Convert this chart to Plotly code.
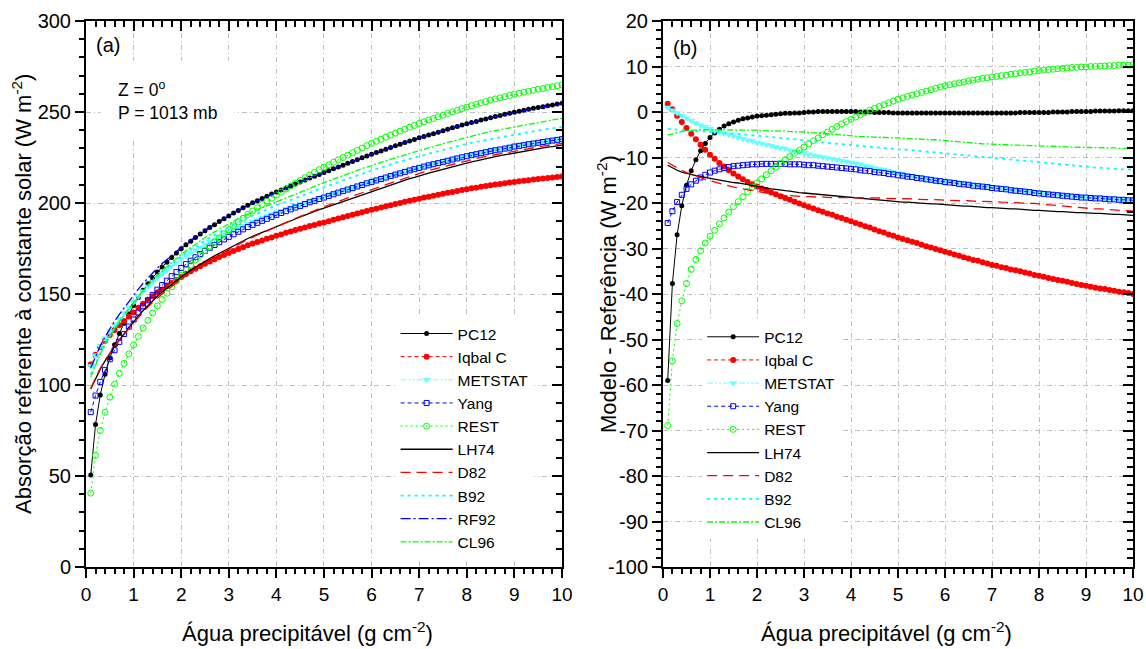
import plotly.graph_objects as go

# ---------------- DATA ----------------
# precipitable water grid (g cm-2)
water = [round(0.1 * i, 1) for i in range(1, 101)]

# RF92 (reference model) absorption, W m-2  -- panel (a)
rf92_abs = [109.5, 116.0, 121.5, 126.5, 131.0, 135.0, 138.8, 142.4, 145.9, 149.3,
            152.7, 155.9, 158.8, 161.6, 164.3, 166.7, 169.0, 171.4, 173.6, 175.8,
            177.8, 179.7, 181.6, 183.4, 185.1, 186.8, 188.4, 190.0, 191.5, 193.0,
            194.5, 195.9, 197.3, 198.7, 200.0, 201.2, 202.4, 203.6, 204.8, 206.0,
            207.1, 208.3, 209.4, 210.5, 211.6, 212.7, 213.8, 214.8, 215.9, 216.9,
            217.9, 219.0, 220.0, 221.0, 222.0, 223.0, 224.0, 225.0, 226.0, 227.0,
            227.9, 228.8, 229.8, 230.7, 231.6, 232.5, 233.4, 234.3, 235.1, 236.0,
            236.8, 237.6, 238.3, 239.1, 239.9, 240.6, 241.4, 242.1, 242.9, 243.6,
            244.3, 244.9, 245.6, 246.2, 246.9, 247.5, 248.0, 248.6, 249.2, 249.8,
            250.3, 250.8, 251.3, 251.8, 252.3, 252.7, 253.2, 253.6, 254.1, 254.5]

# Model - Reference differences, W m-2 -- panel (b)
pc12_diff = [-59.0, -37.7, -27.0, -20.6, -16.1, -12.9, -10.5, -8.5, -6.9, -5.6,
             -4.6, -3.8, -3.1, -2.6, -2.2, -1.8, -1.5, -1.3, -1.1, -0.9,
             -0.8, -0.7, -0.6, -0.5, -0.4, -0.3, -0.3, -0.2, -0.2, -0.1,
             0.0, 0.0, 0.1, 0.1, 0.1, 0.1, 0.1, 0.1, 0.1, 0.1,
             0.1, 0.0, 0.0, 0.0, -0.1, -0.1, -0.1, -0.1, -0.2, -0.2,
             -0.2, -0.2, -0.2, -0.2, -0.2, -0.2, -0.2, -0.2, -0.2, -0.2,
             -0.2, -0.2, -0.2, -0.2, -0.2, -0.2, -0.2, -0.2, -0.2, -0.2,
             -0.2, -0.2, -0.2, -0.2, -0.2, -0.1, -0.1, -0.1, -0.1, -0.1,
             -0.1, -0.1, 0.0, 0.0, 0.0, 0.0, 0.1, 0.1, 0.1, 0.1,
             0.1, 0.2, 0.2, 0.2, 0.2, 0.2, 0.3, 0.3, 0.3, 0.3]

iqbal_diff = [1.8, 0.6, -0.8, -2.2, -3.5, -4.8, -6.0, -7.2, -8.3, -9.4,
              -10.3, -11.2, -12.0, -12.8, -13.5, -14.2, -14.8, -15.4, -15.9, -16.4,
              -16.8, -17.2, -17.7, -18.1, -18.5, -18.9, -19.3, -19.7, -20.1, -20.5,
              -20.9, -21.2, -21.6, -21.9, -22.3, -22.6, -23.0, -23.3, -23.7, -24.0,
              -24.4, -24.7, -25.1, -25.4, -25.8, -26.2, -26.5, -26.9, -27.2, -27.6,
              -27.9, -28.2, -28.5, -28.8, -29.2, -29.5, -29.8, -30.1, -30.4, -30.7,
              -31.0, -31.3, -31.6, -31.9, -32.2, -32.5, -32.7, -33.0, -33.3, -33.6,
              -33.8, -34.1, -34.3, -34.6, -34.8, -35.0, -35.3, -35.5, -35.8, -36.0,
              -36.2, -36.5, -36.7, -36.9, -37.1, -37.3, -37.6, -37.8, -38.0, -38.2,
              -38.4, -38.6, -38.8, -38.9, -39.1, -39.3, -39.5, -39.6, -39.8, -40.0]

metstat_diff = [1.0, 0.4, -0.2, -0.8, -1.4, -1.9, -2.4, -2.9, -3.3, -3.7,
                -4.1, -4.4, -4.7, -5.0, -5.3, -5.6, -5.9, -6.2, -6.4, -6.7,
                -6.9, -7.2, -7.4, -7.7, -7.9, -8.1, -8.4, -8.6, -8.8, -9.0,
                -9.3, -9.5, -9.7, -9.9, -10.1, -10.3, -10.5, -10.7, -10.9, -11.1,
                -11.3, -11.5, -11.8, -12.0, -12.3, -12.5, -12.7, -12.9, -13.2, -13.4,
                -13.6, -13.8, -14.0, -14.2, -14.4, -14.6, -14.8, -15.0, -15.1, -15.2,
                -15.3, -15.4, -15.6, -15.7, -15.8, -16.0, -16.1, -16.2, -16.3, -16.5,
                -16.6, -16.7, -16.8, -17.0, -17.1, -17.2, -17.3, -17.4, -17.6, -17.7,
                -17.8, -17.9, -18.0, -18.1, -18.2, -18.3, -18.4, -18.5, -18.6, -18.6,
                -18.7, -18.8, -18.8, -18.9, -19.0, -19.0, -19.1, -19.1, -19.2, -19.2]

yang_diff = [-24.4, -21.8, -19.8, -18.2, -16.9, -15.9, -15.1, -14.4, -13.8, -13.3,
             -12.9, -12.6, -12.3, -12.1, -11.9, -11.8, -11.7, -11.6, -11.5, -11.5,
             -11.4, -11.4, -11.4, -11.4, -11.4, -11.4, -11.5, -11.5, -11.5, -11.6,
             -11.7, -11.7, -11.8, -11.9, -12.0, -12.1, -12.2, -12.3, -12.4, -12.5,
             -12.6, -12.8, -12.9, -13.0, -13.2, -13.3, -13.4, -13.6, -13.7, -13.9,
             -14.0, -14.2, -14.3, -14.5, -14.6, -14.8, -14.9, -15.1, -15.2, -15.4,
             -15.5, -15.6, -15.8, -15.9, -16.0, -16.2, -16.3, -16.4, -16.5, -16.7,
             -16.8, -16.9, -17.0, -17.2, -17.3, -17.4, -17.5, -17.6, -17.8, -17.9,
             -18.0, -18.1, -18.2, -18.3, -18.4, -18.5, -18.6, -18.7, -18.8, -18.8,
             -18.9, -19.0, -19.0, -19.1, -19.2, -19.2, -19.3, -19.3, -19.4, -19.4]

rest_diff = [-68.9, -54.7, -46.5, -41.5, -37.7, -34.6, -32.4, -30.5, -28.8, -27.3,
             -26.0, -24.6, -23.3, -22.0, -20.8, -19.7, -18.6, -17.5, -16.5, -15.6,
             -14.7, -13.8, -12.9, -12.1, -11.3, -10.5, -9.8, -9.1, -8.4, -7.7,
             -7.0, -6.3, -5.7, -5.0, -4.4, -3.8, -3.2, -2.6, -2.1, -1.6,
             -1.1, -0.6, -0.1, 0.4, 0.8, 1.2, 1.6, 2.0, 2.4, 2.8,
             3.1, 3.4, 3.7, 4.0, 4.3, 4.6, 4.9, 5.2, 5.5, 5.8,
             6.0, 6.2, 6.4, 6.6, 6.8, 7.0, 7.2, 7.4, 7.5, 7.7,
             7.8, 8.0, 8.1, 8.3, 8.4, 8.6, 8.7, 8.8, 9.0, 9.1,
             9.2, 9.3, 9.4, 9.5, 9.6, 9.7, 9.8, 9.8, 9.9, 9.9,
             10.0, 10.0, 10.1, 10.1, 10.2, 10.2, 10.3, 10.3, 10.3, 10.4]

lh74_diff = [-11.7, -12.3, -12.8, -13.2, -13.5, -13.8, -14.0, -14.2, -14.4, -14.6,
             -14.8, -15.0, -15.1, -15.3, -15.5, -15.6, -15.8, -15.9, -16.1, -16.3,
             -16.5, -16.7, -16.9, -17.0, -17.2, -17.3, -17.4, -17.6, -17.7, -17.8,
             -17.9, -18.0, -18.1, -18.2, -18.3, -18.4, -18.5, -18.6, -18.7, -18.8,
             -18.9, -19.0, -19.1, -19.2, -19.3, -19.4, -19.4, -19.5, -19.6, -19.7,
             -19.8, -19.8, -19.9, -20.0, -20.0, -20.1, -20.2, -20.2, -20.3, -20.4,
             -20.5, -20.5, -20.6, -20.7, -20.7, -20.8, -20.9, -20.9, -21.0, -21.0,
             -21.1, -21.2, -21.2, -21.3, -21.3, -21.4, -21.5, -21.5, -21.6, -21.6,
             -21.7, -21.8, -21.8, -21.9, -21.9, -22.0, -22.0, -22.1, -22.1, -22.2,
             -22.3, -22.3, -22.3, -22.4, -22.4, -22.5, -22.5, -22.6, -22.6, -22.7]

d82_diff = [-11.1, -11.7, -12.3, -12.8, -13.3, -13.7, -14.1, -14.5, -14.8, -15.1,
            -15.4, -15.7, -16.0, -16.2, -16.5, -16.7, -16.9, -17.1, -17.3, -17.5,
            -17.7, -17.8, -18.0, -18.1, -18.2, -18.3, -18.4, -18.5, -18.5, -18.6,
            -18.6, -18.7, -18.7, -18.7, -18.8, -18.8, -18.8, -18.8, -18.8, -18.8,
            -18.8, -18.8, -18.9, -18.9, -18.9, -18.9, -19.0, -19.0, -19.0, -19.0,
            -19.1, -19.1, -19.1, -19.2, -19.2, -19.2, -19.3, -19.3, -19.3, -19.4,
            -19.4, -19.4, -19.5, -19.5, -19.5, -19.6, -19.6, -19.6, -19.7, -19.7,
            -19.7, -19.8, -19.8, -19.9, -19.9, -20.0, -20.0, -20.1, -20.1, -20.2,
            -20.3, -20.4, -20.5, -20.6, -20.7, -20.8, -20.9, -21.0, -21.0, -21.1,
            -21.2, -21.3, -21.3, -21.4, -21.5, -21.5, -21.6, -21.7, -21.7, -21.8]

b92_diff = [-3.7, -3.8, -3.9, -3.9, -4.0, -4.1, -4.2, -4.2, -4.3, -4.4,
            -4.5, -4.5, -4.6, -4.7, -4.7, -4.8, -4.9, -5.0, -5.0, -5.1,
            -5.2, -5.3, -5.4, -5.5, -5.7, -5.8, -5.9, -6.0, -6.1, -6.2,
            -6.3, -6.4, -6.6, -6.7, -6.8, -6.9, -7.0, -7.1, -7.2, -7.3,
            -7.4, -7.5, -7.6, -7.7, -7.8, -7.8, -7.9, -8.0, -8.1, -8.2,
            -8.3, -8.3, -8.4, -8.5, -8.6, -8.7, -8.8, -8.9, -9.0, -9.0,
            -9.1, -9.2, -9.3, -9.4, -9.5, -9.6, -9.8, -9.9, -10.0, -10.1,
            -10.2, -10.3, -10.4, -10.5, -10.6, -10.7, -10.8, -10.9, -11.0, -11.1,
            -11.2, -11.3, -11.4, -11.5, -11.6, -11.7, -11.8, -11.9, -12.0, -12.1,
            -12.1, -12.2, -12.3, -12.3, -12.4, -12.5, -12.5, -12.6, -12.6, -12.7]

cl96_diff = [-5.1, -4.8, -4.5, -4.3, -4.1, -4.0, -3.9, -3.9, -3.9, -3.9,
             -3.9, -3.9, -3.9, -3.9, -3.9, -4.0, -4.0, -4.0, -4.0, -4.0,
             -4.1, -4.1, -4.1, -4.2, -4.2, -4.2, -4.3, -4.3, -4.4, -4.4,
             -4.5, -4.5, -4.6, -4.7, -4.8, -4.9, -5.0, -5.1, -5.2, -5.3,
             -5.3, -5.4, -5.4, -5.5, -5.5, -5.6, -5.6, -5.7, -5.7, -5.7,
             -5.8, -5.8, -5.9, -5.9, -6.0, -6.0, -6.1, -6.1, -6.2, -6.2,
             -6.3, -6.4, -6.5, -6.6, -6.7, -6.8, -6.9, -7.0, -7.0, -7.1,
             -7.1, -7.2, -7.2, -7.3, -7.3, -7.3, -7.4, -7.4, -7.4, -7.5,
             -7.5, -7.5, -7.6, -7.6, -7.6, -7.7, -7.7, -7.7, -7.8, -7.8,
             -7.8, -7.8, -7.9, -7.9, -7.9, -7.9, -8.0, -8.0, -8.0, -8.0]

series_names = ["PC12", "Iqbal C", "METSTAT", "Yang", "REST", "LH74", "D82", "B92", "RF92", "CL96"]
diffs = {"PC12": pc12_diff, "Iqbal C": iqbal_diff, "METSTAT": metstat_diff, "Yang": yang_diff,
         "REST": rest_diff, "LH74": lh74_diff, "D82": d82_diff, "B92": b92_diff, "CL96": cl96_diff}

y_ticks_a = [0, 50, 100, 150, 200, 250, 300]
y_ticks_b = [-100, -90, -80, -70, -60, -50, -40, -30, -20, -10, 0, 10, 20]
y_ticktext_b = ["-100", "-90", "-80", "-70", "-60", "-50", "-40", "-30", "-20", "-10", "0", "10", "20"]
x_ticks = [0, 1, 2, 3, 4, 5, 6, 7, 8, 9, 10]

# ---------------- STYLE ----------------
FONT = "Liberation Sans, Arial, sans-serif"
STYLE = {
    "PC12":    dict(color="#000000", dash="solid", width=1.0, symbol="circle", size=5, mline=0),
    "Iqbal C": dict(color="#FF0000", dash="4px,3px", width=1.0, symbol="circle", size=6, mline=0),
    "METSTAT": dict(color="#66FFFF", dash="6px,2px,2px,2px,2px,2px", width=1.0, symbol="triangle-down", size=7, mline=0),
    "Yang":    dict(color="#0000FF", dash="4px,3px", width=1.0, symbol="square-open", size=5, mline=1),
    "REST":    dict(color="#00FF00", dash="2px,3px", width=1.0, symbol="circle-open", size=6, mline=1),
    "LH74":    dict(color="#000000", dash="solid", width=1.3),
    "D82":     dict(color="#FF0000", dash="10px,6px", width=1.3),
    "B92":     dict(color="#00FFFF", dash="3px,4px", width=1.8),
    "RF92":    dict(color="#0000FF", dash="10px,3px,2px,3px", width=1.3),
    "CL96":    dict(color="#00FF00", dash="6px,2px,2px,2px", width=1.3),
}

fig = go.Figure()


def add(name, yvals, xa, ya, legend):
    s = STYLE[name]
    kw = dict(x=water, y=yvals, name=name, xaxis=xa, yaxis=ya, legend=legend,
              line=dict(color=s["color"], dash=s["dash"], width=s["width"]),
              hoverinfo="skip")
    if "symbol" in s:
        kw["mode"] = "lines+markers"
        kw["marker"] = dict(symbol=s["symbol"], size=s["size"], color=s["color"],
                            line=dict(color=s["color"], width=s["mline"]))
    else:
        kw["mode"] = "lines"
    fig.add_trace(go.Scatter(**kw))


# panel (a): absolute absorption = reference + (model - reference)
for nm in series_names:
    if nm == "RF92":
        vals = rf92_abs
    else:
        vals = [r + d for r, d in zip(rf92_abs, diffs[nm])]
    add(nm, vals, "x", "y", "legend")

# panel (b): model - reference
for nm in series_names:
    if nm == "RF92":
        continue
    add(nm, diffs[nm], "x2", "y2", "legend2")

# empty traces so that the mirrored (top / right) frame axes get drawn
for xa, ya in (("x3", "y3"), ("x4", "y4")):
    fig.add_trace(go.Scatter(x=[], y=[], xaxis=xa, yaxis=ya, showlegend=False,
                             hoverinfo="skip", mode="lines"))

GRID = dict(showgrid=True, gridcolor="#BDBDBD", gridwidth=1, griddash="5px,3px,1px,3px")
LINE = dict(showline=True, linewidth=2, linecolor="black", zeroline=False, automargin=False)


def xaxis(domain, anchor):
    return dict(domain=domain, anchor=anchor, range=[0, 10], tickvals=x_ticks,
                ticks="outside", ticklen=9, tickwidth=2, tickcolor="black",
                minor=dict(dtick=0.2, tick0=0, ticks="outside", ticklen=5, tickwidth=1.5,
                           tickcolor="black", showgrid=False),
                tickfont=dict(family=FONT, size=19, color="black"), **GRID, **LINE)


def yaxis(rng, tv, tt, mdt, anchor):
    return dict(range=rng, anchor=anchor, tickvals=tv, ticktext=tt, domain=[0, 1],
                ticks="outside", ticklen=9, tickwidth=2, tickcolor="black",
                minor=dict(dtick=mdt, tick0=rng[0], ticks="outside", ticklen=5, tickwidth=1.5,
                           tickcolor="black", showgrid=False),
                tickfont=dict(family=FONT, size=20, color="black"), **GRID, **LINE)


def mirror_x(over, anchor, domain):
    return dict(overlaying=over, anchor=anchor, side="top", range=[0, 10], tickvals=x_ticks,
                domain=domain,
                ticks="inside", ticklen=10, tickwidth=2, tickcolor="black", showticklabels=False,
                minor=dict(dtick=0.2, tick0=0, ticks="inside", ticklen=6, tickwidth=1.5, tickcolor="black"),
                showgrid=False, **LINE)


def mirror_y(over, anchor, rng, tv, mdt):
    return dict(overlaying=over, anchor=anchor, side="right", range=rng, tickvals=tv,
                domain=[0, 1],
                ticks="inside", ticklen=10, tickwidth=2, tickcolor="black", showticklabels=False,
                minor=dict(dtick=mdt, tick0=rng[0], ticks="inside", ticklen=6, tickwidth=1.5, tickcolor="black"),
                showgrid=False, **LINE)


DOM_A = [0, 0.4546]
DOM_B = [0.5511, 1.0]

LEG = dict(xanchor="left", yanchor="top", bgcolor="white", borderwidth=0,
           font=dict(family=FONT, size=15.5, color="black"), itemwidth=52, tracegroupgap=0)

fig.update_layout(
    width=1146, height=649,
    margin=dict(l=86, r=13, t=21, b=82, autoexpand=False),
    paper_bgcolor="white", plot_bgcolor="white",
    font=dict(family=FONT, color="black"),
    showlegend=True,
    xaxis=xaxis(DOM_A, "y"),
    yaxis=yaxis([0, 300], y_ticks_a, [str(v) for v in y_ticks_a], 10, "x"),
    xaxis2=xaxis(DOM_B, "y2"),
    yaxis2=yaxis([-100, 20], y_ticks_b, y_ticktext_b, 2, "x2"),
    xaxis3=mirror_x("x", "y3", DOM_A),
    yaxis3=mirror_y("y", "x3", [0, 300], y_ticks_a, 10),
    xaxis4=mirror_x("x2", "y4", DOM_B),
    yaxis4=mirror_y("y2", "x4", [-100, 20], y_ticks_b, 2),
    legend=dict(x=0.2957, y=0.458, **LEG),
    legend2=dict(x=0.5885, y=0.452, **LEG),
)

TITLE_FONT = dict(family=FONT, size=22, color="black")
ann = [
    dict(text="(a)", x=0.021, y=0.956, font=dict(family=FONT, size=20, color="black")),
    dict(text="(b)", x=0.5721, y=0.9505, font=dict(family=FONT, size=20, color="black")),
    dict(text="Z = 0<sup>o</sup><br>P = 1013 mb", x=0.0134, y=0.8544, xanchor="left",
         align="left", bgcolor="white", borderpad=17,
         font=dict(family=FONT, size=17.5, color="black")),
    dict(text="Água precipitável (g cm<sup>-2</sup>)", x=0.2120, y=-0.119, font=TITLE_FONT),
    dict(text="Água precipitável (g cm<sup>-2</sup>)", x=0.7641, y=-0.119, font=TITLE_FONT),
    dict(text="Absorção referente à constante solar (W m<sup>-2</sup>)", x=-0.0611, y=0.5,
         textangle=-90, font=TITLE_FONT),
    dict(text="Modelo - Referência (W m<sup>-2</sup>)", x=0.4976, y=0.5,
         textangle=-90, font=TITLE_FONT),
]
for a in ann:
    a.setdefault("xanchor", "center")
    a.setdefault("yanchor", "middle")
    fig.add_annotation(xref="paper", yref="paper", showarrow=False, **a)

# remove the default 8 px page margin so the figure sits at the window's top-left corner
fig.write_html("out.html",
               config={"displayModeBar": False},
               post_script="document.body.style.margin='0';document.body.style.overflow='hidden';")
